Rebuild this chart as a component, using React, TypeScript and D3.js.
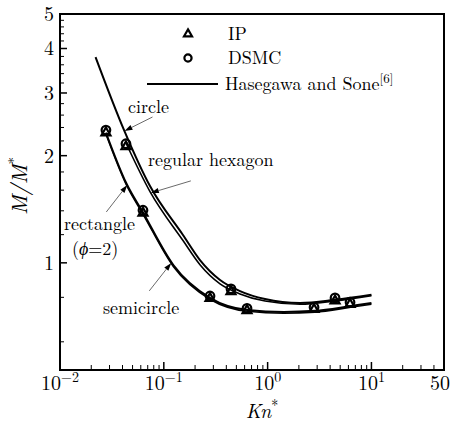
import React from "react";
import * as d3 from "d3";

// ---- data ----
const circleX = [0.022, 0.0414, 0.0736, 0.153, 0.223, 0.348, 0.542, 0.944, 2.05, 4.46, 10];
const circleY = [3.785, 2.36, 1.643, 1.197, 1.018, 0.895, 0.833, 0.791, 0.771, 0.787, 0.813];

const hexX = [0.0435, 0.0736, 0.153, 0.223, 0.348, 0.542, 0.944, 2.05, 4.46, 10];
const hexY = [2.16, 1.585, 1.155, 0.988, 0.873, 0.818, 0.781, 0.765, 0.782, 0.809];

const rectX = [0.0277, 0.0434, 0.0634, 0.1235, 0.281, 0.641, 1.43, 2.85, 6.3, 10];
const rectY = [2.32, 1.676, 1.38, 0.986, 0.796, 0.737, 0.728, 0.733, 0.756, 0.771];

const semiX = [0.0277, 0.0434, 0.0634, 0.1235, 0.281, 0.641, 1.43, 2.85, 6.3, 10];
const semiY = [2.3, 1.66, 1.367, 0.977, 0.789, 0.731, 0.722, 0.727, 0.75, 0.765];

const ipX = [0.0277, 0.0432, 0.063, 0.2786, 0.4436, 0.633, 2.8, 4.46, 6.22];
const ipY = [2.32, 2.12, 1.38, 0.795, 0.83, 0.735, 0.74, 0.782, 0.765];
const dsmcX = [0.0277, 0.0432, 0.063, 0.2786, 0.4436, 0.633, 2.8, 4.46, 6.22];
const dsmcY = [2.36, 2.16, 1.405, 0.807, 0.845, 0.745, 0.75, 0.797, 0.775];

const xMajor = [0.01, 0.1, 1, 10];
const xMajorExp = ["\u22122", "\u22121", "0", "1"];
const yMajor = [1, 2, 3, 4, 5];
const yMinor = [0.6, 0.8, 1.2, 1.4, 1.6, 1.8, 2.2, 2.4, 2.6, 2.8, 3.2, 3.4, 3.6, 3.8, 4.2, 4.4, 4.6, 4.8];

const annNames = ["circle", "regular hexagon", "rectangle", "semicircle"];

const W = 455;
const H = 429;
const FONT = '"Latin Modern Roman", "Liberation Serif", serif';

function interpLog(xs: number[], ys: number[], xv: number) {
  let i = 0;
  while (i < xs.length - 2 && xv > xs[i + 1]) i++;
  const t = (Math.log(xv) - Math.log(xs[i])) / (Math.log(xs[i + 1]) - Math.log(xs[i]));
  return Math.exp(Math.log(ys[i]) + t * (Math.log(ys[i + 1]) - Math.log(ys[i])));
}

export default function App() {
  const x = d3.scaleLog().domain([0.01, 50]).range([60, 444]);
  const y = d3.scaleLog().domain([0.5, 5]).range([370, 14]);
  const line = d3
    .line<[number, number]>()
    .x((d) => x(d[0]))
    .y((d) => y(d[1]))
    .curve(d3.curveMonotoneX);

  const zip = (a: number[], b: number[]) => a.map((v, i) => [v, b[i]] as [number, number]);

  const xMinor: number[] = [];
  [0.01, 0.1, 1].forEach((dec) => {
    for (let k = 2; k <= 9; k++) xMinor.push(dec * k);
  });
  [20, 30, 40].forEach((v) => xMinor.push(v));

  const left = x(0.01);
  const right = x(50);
  const top = y(5);
  const bottom = y(0.5);

  const tri = (cx: number, cy: number, s: number) => {
    const h = s * 0.866;
    return `M${cx},${cy - (2 * h) / 3}L${cx + s / 2},${cy + h / 3}L${cx - s / 2},${cy + h / 3}Z`;
  };

  const series = [
    [circleX, circleY],
    [hexX, hexY],
    [rectX, rectY],
    [semiX, semiY],
  ];
  const tipXs = [0.0418, 0.075, 0.0445, 0.118];
  const tails = [
    [28, -14],
    [40, -12],
    [-21, 27],
    [-22, 28],
  ];

  const arrows = tipXs.map((tx, i) => {
    const [xs, ys] = series[i];
    const px = x(tx);
    const py = y(interpLog(xs, ys, tx));
    const sx = px + tails[i][0];
    const sy = py + tails[i][1];
    const ang = Math.atan2(py - sy, px - sx);
    const L = 8,
      w = 2.6;
    const bx = px - L * Math.cos(ang);
    const by = py - L * Math.sin(ang);
    const head = `M${px},${py}L${bx + w * Math.sin(ang)},${by - w * Math.cos(ang)}L${bx - w * Math.sin(ang)},${by + w * Math.cos(ang)}Z`;
    return { px, py, sx, sy, bx, by, head };
  });

  const tStyle = { fontFamily: FONT };

  return (
    <svg
      width={W}
      height={H}
      style={{ position: "absolute", left: 0, top: 0, background: "#fff", fontFamily: FONT }}
    >
      <rect x={0} y={0} width={W} height={H} fill="#fff" />
      {/* curves */}
      <g fill="none" stroke="#000" strokeWidth={2}>
        <path d={line(zip(circleX, circleY)) || ""} />
        <path d={line(zip(hexX, hexY)) || ""} strokeWidth={1.6} />
        <path d={line(zip(rectX, rectY)) || ""} />
        <path d={line(zip(semiX, semiY)) || ""} strokeWidth={1.6} />
      </g>
      {/* markers */}
      <g fill="none" stroke="#000" strokeWidth={2.2}>
        {ipX.map((v, i) => (
          <path key={"ip" + i} d={tri(x(v), y(ipY[i]), 9)} strokeLinejoin="miter" />
        ))}
        {dsmcX.map((v, i) => (
          <circle key={"ds" + i} cx={x(v)} cy={y(dsmcY[i])} r={4.3} />
        ))}
      </g>
      {/* annotations */}
      {arrows.map((a, i) => (
        <g key={"ar" + i}>
          <line x1={a.sx} y1={a.sy} x2={a.bx} y2={a.by} stroke="#444" strokeWidth={0.8} />
          <path d={a.head} fill="#000" />
        </g>
      ))}
      <g fontSize={18} fill="#000" style={tStyle}>
        <text x={128} y={113} style={tStyle}>{annNames[0]}</text>
        <text x={148} y={166} style={tStyle}>{annNames[1]}</text>
        <text x={64} y={230} style={tStyle}>{annNames[2]}</text>
        <text x={72} y={255} style={tStyle}>
          (<tspan fontStyle="italic">ϕ</tspan>=2)
        </text>
        <text x={103} y={314} style={tStyle}>{annNames[3]}</text>
      </g>
      {/* frame */}
      <rect x={left} y={top} width={right - left} height={bottom - top} fill="none" stroke="#000" strokeWidth={2} />
      {/* ticks */}
      <g stroke="#000" strokeWidth={1}>
        {xMajor.map((v) => (
          <line key={"xM" + v} x1={x(v)} x2={x(v)} y1={bottom} y2={bottom - 8} strokeWidth={1.5} />
        ))}
        {xMinor.map((v) => (
          <line key={"xm" + v} x1={x(v)} x2={x(v)} y1={bottom} y2={bottom - 5} />
        ))}
        {yMajor.map((v) => (
          <line key={"yM" + v} x1={left} x2={left + 7} y1={y(v)} y2={y(v)} strokeWidth={1.5} />
        ))}
        {yMinor.map((v) => (
          <line key={"ym" + v} x1={left} x2={left + 4} y1={y(v)} y2={y(v)} />
        ))}
      </g>
      {/* x tick labels */}
      <g fontSize={20} fill="#000" textAnchor="middle">
        {xMajor.map((v, i) => (
          <text key={"xl" + v} x={x(v)} y={bottom + 20} style={tStyle}>
            10<tspan fontSize={14} dy={-8}>{xMajorExp[i]}</tspan>
          </text>
        ))}
        <text x={x(50) - 4} y={bottom + 20} style={tStyle}>50</text>
      </g>
      {/* y tick labels */}
      <g fontSize={20} fill="#000" textAnchor="end">
        {yMajor.map((v) => (
          <text key={"yl" + v} x={left - 6} y={y(v) + 7} style={tStyle}>
            {v}
          </text>
        ))}
      </g>
      {/* axis titles */}
      <text x={262} y={418} fontSize={20} textAnchor="middle" fontStyle="italic" style={tStyle}>
        Kn<tspan fontStyle="normal" fontSize={14} dy={-8}>*</tspan>
      </text>
      <text transform="translate(27,186) rotate(-90)" fontSize={22} textAnchor="middle" fontStyle="italic" style={tStyle}>
        M/M<tspan fontStyle="normal" fontSize={15} dy={-8}>*</tspan>
      </text>
      {/* legend */}
      <path d={tri(188, 34, 8)} fill="none" stroke="#000" strokeWidth={2.2} />
      <text x={228} y={40} fontSize={18} style={tStyle}>IP</text>
      <circle cx={188} cy={58} r={3.6} fill="none" stroke="#000" strokeWidth={2.2} />
      <text x={228} y={64} fontSize={18} style={tStyle}>DSMC</text>
      <line x1={147} x2={218} y1={84} y2={84} stroke="#000" strokeWidth={2} />
      <text x={225} y={90} fontSize={18} style={tStyle}>
        Hasegawa and Sone<tspan fontSize={13} dy={-7}>[6]</tspan>
      </text>
    </svg>
  );
}
